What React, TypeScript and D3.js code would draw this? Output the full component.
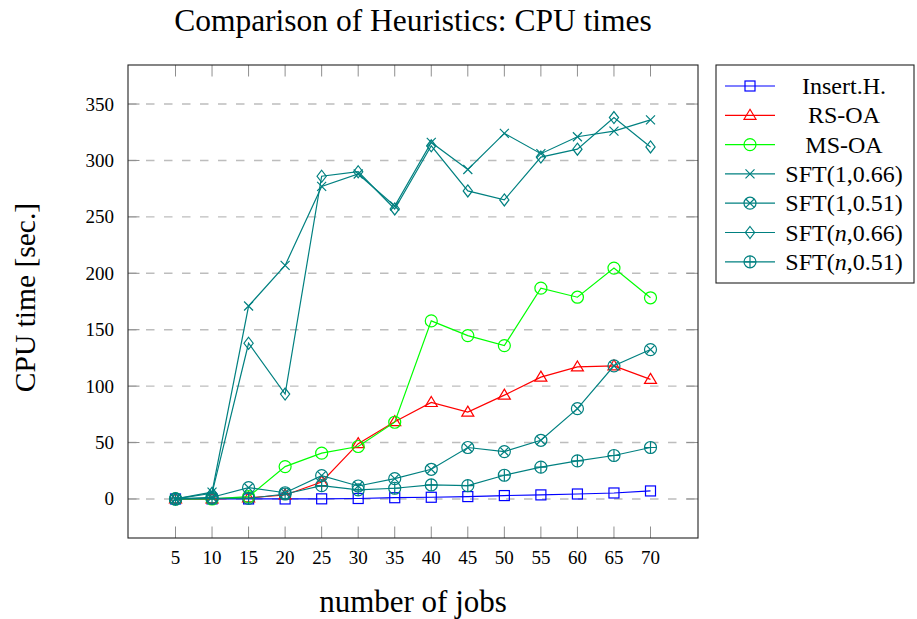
import React, { useRef, useEffect } from "react";
import * as d3 from "d3";

// number of jobs on the x axis
const jobs = [5, 10, 15, 20, 25, 30, 35, 40, 45, 50, 55, 60, 65, 70];
const yTicks = [0, 50, 100, 150, 200, 250, 300, 350];

// CPU times in seconds
const insertH = [0, 0, 0, 0, 0.1, 0.4, 1.1, 1.5, 2.1, 3.0, 3.6, 4.4, 5.3, 7.1];
const rsOA = [0, 0, 1, 3.5, 15, 49, 68.5, 85.5, 77, 92, 108, 117, 118, 106];
const msOA = [0, 0, 2, 28.7, 40.6, 46.5, 68, 157.8, 144.8, 135.9, 186.8, 178.8, 204.6, 178.3];
const sft1_066 = [0, 6, 171, 207, 277, 288, 259.6, 316, 292, 324, 306, 321, 326, 336];
const sft1_051 = [0, 1.5, 10, 5.5, 20.7, 11.5, 18, 26.3, 45.6, 42, 52, 80, 118, 132.4];
const sftN_066 = [0, 5, 138, 93, 286, 290, 257, 313, 273, 265, 303, 310, 338, 312];
const sftN_051 = [0, 0.5, 0.5, 4.4, 11.8, 8, 9.5, 12.4, 11.8, 21, 28.2, 33.8, 38.5, 45.6];

const seriesNames = ["Insert.H.", "RS-OA", "MS-OA", "SFT(1,0.66)", "SFT(1,0.51)", "SFT(n,0.66)", "SFT(n,0.51)"];
const seriesValues = [insertH, rsOA, msOA, sft1_066, sft1_051, sftN_066, sftN_051];
const seriesColors = ["#0000ff", "#ff0000", "#00ff00", "#008080", "#008080", "#008080", "#008080"];
const seriesMarks = ["square", "triangle", "circle", "x", "otimes", "diamond", "oplus"];

const FONT = "'Liberation Serif', 'Times New Roman', serif";

// draws a pgfplots-like mark centred at (0,0) inside g
function drawMark(g: any, kind: string, color: string) {
  const r = 6;
  if (kind === "square") {
    g.append("rect").attr("x", -5).attr("y", -5).attr("width", 10).attr("height", 10)
      .attr("fill", "none").attr("stroke", color).attr("stroke-width", 1.2);
  } else if (kind === "triangle") {
    const pts = [[0, -6], [6, 4], [-6, 4]];
    g.append("polygon").attr("points", pts.map((p) => p.join(",")).join(" "))
      .attr("fill", "none").attr("stroke", color).attr("stroke-width", 1.2);
  } else if (kind === "circle") {
    g.append("circle").attr("r", r).attr("fill", "none").attr("stroke", color).attr("stroke-width", 1.2);
  } else if (kind === "x") {
    g.append("path").attr("d", "M-4.5,-4.5L4.5,4.5M-4.5,4.5L4.5,-4.5")
      .attr("stroke", color).attr("stroke-width", 1.2);
  } else if (kind === "otimes") {
    g.append("circle").attr("r", r).attr("fill", "none").attr("stroke", color).attr("stroke-width", 1.2);
    g.append("path").attr("d", "M-4.2,-4.2L4.2,4.2M-4.2,4.2L4.2,-4.2")
      .attr("stroke", color).attr("stroke-width", 1.2);
  } else if (kind === "diamond") {
    g.append("polygon").attr("points", "0,-6 4.6,0 0,6 -4.6,0")
      .attr("fill", "none").attr("stroke", color).attr("stroke-width", 1.2);
  } else if (kind === "oplus") {
    g.append("circle").attr("r", r).attr("fill", "none").attr("stroke", color).attr("stroke-width", 1.2);
    g.append("path").attr("d", "M-6,0L6,0M0,-6L0,6")
      .attr("stroke", color).attr("stroke-width", 1.2);
  }
}

function HeuristicsChart() {
  const chartRef = useRef(null);

  useEffect(() => {
    const svg = d3.select(chartRef.current);
    svg.selectAll("*").remove();

    // plot box
    const left = 128, right = 698, top = 65, bottom = 538;
    const x = d3.scaleLinear().domain([-1.5, 76.5]).range([left, right]);
    const y = d3.scaleLinear().domain([-34.6, 384.6]).range([bottom, top]);

    // dashed horizontal grid
    svg.append("g").selectAll("line").data(yTicks).enter().append("line")
      .attr("x1", left).attr("x2", right)
      .attr("y1", (d) => y(d)).attr("y2", (d) => y(d))
      .attr("stroke", "#bdbdbd").attr("stroke-width", 1.4).attr("stroke-dasharray", "8.5 9.5");

    // ticks on all four sides
    const tickLen = 11.5;
    const ticks = svg.append("g").attr("stroke", "#8f8f8f").attr("stroke-width", 1);
    jobs.forEach((j) => {
      ticks.append("line").attr("x1", x(j)).attr("x2", x(j)).attr("y1", bottom).attr("y2", bottom - tickLen);
      ticks.append("line").attr("x1", x(j)).attr("x2", x(j)).attr("y1", top).attr("y2", top + tickLen);
    });
    yTicks.forEach((t) => {
      ticks.append("line").attr("x1", left).attr("x2", left + tickLen).attr("y1", y(t)).attr("y2", y(t));
      ticks.append("line").attr("x1", right).attr("x2", right - tickLen).attr("y1", y(t)).attr("y2", y(t));
    });

    // series: line first, then marks
    const line = d3.line().x((d: any) => x(d[0])).y((d: any) => y(d[1]));
    seriesValues.forEach((vals, i) => {
      const pts = jobs.map((j, k) => [j, vals[k]]);
      const g = svg.append("g");
      g.append("path").attr("d", line(pts as any)).attr("fill", "none")
        .attr("stroke", seriesColors[i]).attr("stroke-width", 1.2);
      pts.forEach((p) => {
        const m = g.append("g").attr("transform", `translate(${x(p[0])},${y(p[1])})`);
        drawMark(m, seriesMarks[i], seriesColors[i]);
      });
    });

    // axis frame
    svg.append("rect").attr("x", left).attr("y", top).attr("width", right - left).attr("height", bottom - top)
      .attr("fill", "none").attr("stroke", "#222").attr("stroke-width", 1.1);

    // tick labels
    svg.append("g").selectAll("text").data(jobs).enter().append("text")
      .attr("x", (d) => x(d)).attr("y", 564).attr("text-anchor", "middle")
      .style("font-family", FONT).style("font-size", "19px").text((d) => d);
    svg.append("g").selectAll("text").data(yTicks).enter().append("text")
      .attr("x", 114).attr("y", (d) => y(d) + 6.5).attr("text-anchor", "end")
      .style("font-family", FONT).style("font-size", "19px").text((d) => d);

    // title and axis labels
    svg.append("text").attr("x", (left + right) / 2).attr("y", 31).attr("text-anchor", "middle")
      .style("font-family", FONT).style("font-size", "31.5px").text("Comparison of Heuristics: CPU times");
    svg.append("text").attr("x", (left + right) / 2).attr("y", 612).attr("text-anchor", "middle")
      .style("font-family", FONT).style("font-size", "31px").text("number of jobs");
    svg.append("text").attr("transform", `translate(35,${(top + bottom) / 2 - 4}) rotate(-90)`)
      .attr("text-anchor", "middle")
      .style("font-family", FONT).style("font-size", "29.5px").text("CPU time [sec.]");

    // legend
    const lg = svg.append("g");
    lg.append("rect").attr("x", 716).attr("y", 65).attr("width", 198).attr("height", 218)
      .attr("fill", "white").attr("stroke", "#222").attr("stroke-width", 1.1);
    seriesNames.forEach((name, i) => {
      const cy = 86 + i * 29.3;
      lg.append("line").attr("x1", 725).attr("x2", 775).attr("y1", cy).attr("y2", cy)
        .attr("stroke", seriesColors[i]).attr("stroke-width", 1.2);
      const m = lg.append("g").attr("transform", `translate(750,${cy})`);
      drawMark(m, seriesMarks[i], seriesColors[i]);
      const t = lg.append("text").attr("x", 844).attr("y", cy + 8).attr("text-anchor", "middle")
        .style("font-family", FONT).style("font-size", "24px");
      const parts = name.split("(n,");
      if (parts.length === 2) {
        t.append("tspan").text(parts[0] + "(");
        t.append("tspan").style("font-style", "italic").text("n");
        t.append("tspan").text("," + parts[1]);
      } else {
        t.text(name);
      }
    });
  }, []);

  return (
    <svg ref={chartRef} width={917} height={619}
      style={{ position: "absolute", left: 0, top: 0, background: "white" }}></svg>
  );
}

export default function App() {
  return <HeuristicsChart />;
}
